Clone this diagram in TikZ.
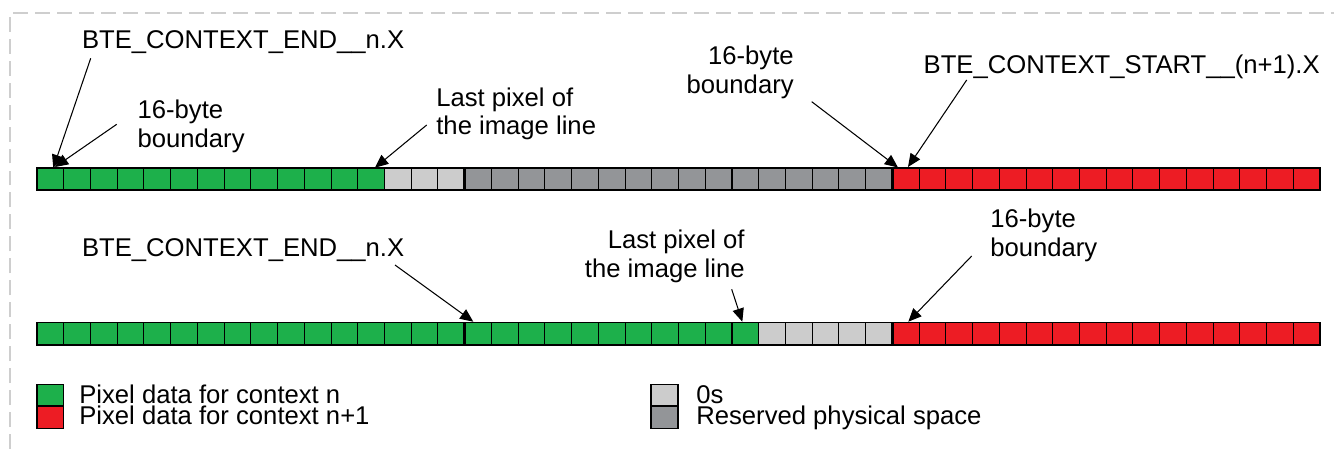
\documentclass[tikz,border=0pt]{standalone}
\usepackage{fontspec}
\setmainfont{Liberation Sans}
\usepackage{tikz}
\usetikzlibrary{arrows.meta}
\definecolor{ctxn}{RGB}{29,176,75}
\definecolor{ctxnext}{RGB}{237,28,36}
\definecolor{zeros}{RGB}{204,204,204}
\definecolor{resv}{RGB}{147,149,152}
\definecolor{framegray}{RGB}{206,206,206}

\begin{document}
\begin{tikzpicture}[x=0.02cm,y=-0.02cm,>={Triangle[length=7.5pt,width=6.5pt]},
  cell/.style={draw=black,line width=0.6pt},
  lbl/.style={inner sep=0pt,font=\fontsize{14.6pt}{16.4pt}\selectfont},
  ptr/.style={->,line width=0.6pt}]
\useasboundingbox (0,0) rectangle (1334,449);
\def\w{26.73}
% dashed frame
\draw[framegray,line width=1.1pt,dash pattern=on 8.5pt off 4pt](10,449)--(10,13)--(1334,13);

% upper line
\foreach \i in {0,...,12} \draw[cell,fill=ctxn]({37+\i*\w},168) rectangle ++(\w,22);
\foreach \i in {13,...,15} \draw[cell,fill=zeros]({37+\i*\w},168) rectangle ++(\w,22);
\foreach \i in {16,...,31} \draw[cell,fill=resv]({37+\i*\w},168) rectangle ++(\w,22);
\foreach \i in {32,...,47} \draw[cell,fill=ctxnext]({37+\i*\w},168) rectangle ++(\w,22);
\draw[line width=1pt](37,168) rectangle (1320,190);
\draw[line width=1.4pt]({37+16*\w},168)--++(0,22) ({37+32*\w},168)--++(0,22);

% lower line
\foreach \i in {0,...,26} \draw[cell,fill=ctxn]({37+\i*\w},322.5) rectangle ++(\w,22.5);
\foreach \i in {27,...,31} \draw[cell,fill=zeros]({37+\i*\w},322.5) rectangle ++(\w,22.5);
\foreach \i in {32,...,47} \draw[cell,fill=ctxnext]({37+\i*\w},322.5) rectangle ++(\w,22.5);
\draw[line width=1pt](37,322.5) rectangle (1320,345);
\draw[line width=1.4pt]({37+16*\w},322.5)--++(0,22.5) ({37+32*\w},322.5)--++(0,22.5);

% labels (two-line ones are anchored on their last line)
\node[lbl,anchor=base west](endtop) at (81.7,48.3){BTE\_CONTEXT\_END\_\_n.X};
\node[lbl,anchor=base west,align=left](bndtopl) at (137.3,147.7){16-byte\\boundary};
\node[lbl,anchor=base west,align=left](lasttop) at (436,135){Last pixel of\\the image line};
\node[lbl,anchor=base east,align=right](bndtopr) at (794,93.3){16-byte\\boundary};
\node[lbl,anchor=base west](starttop) at (923.3,73.3){BTE\_CONTEXT\_START\_\_(n+1).X};
\node[lbl,anchor=base west](endbot) at (81.7,256.7){BTE\_CONTEXT\_END\_\_n.X};
\node[lbl,anchor=base east,align=right](lastbot) at (745,277.7){Last pixel of\\the image line};
\node[lbl,anchor=base west,align=left](bndbot) at (990,256.7){16-byte\\boundary};

% pointers
\coordinate (a1) at (90.7,58.3);   \coordinate (b1) at (53.3,168);
\coordinate (a2) at (116.7,124.3); \coordinate (b2) at (55,167);
\coordinate (a3) at (426.7,125);   \coordinate (b3) at (375,167.7);
\coordinate (a4) at (811.7,101.7); \coordinate (b4) at (898,167.5);
\coordinate (a5) at (966.7,80);    \coordinate (b5) at (908,167);
\coordinate (a6) at (395,265);     \coordinate (b6) at (473.3,321.7);
\coordinate (a7) at (731.7,289.3); \coordinate (b7) at (742.3,321.7);
\coordinate (a8) at (971.7,256);   \coordinate (b8) at (908.3,321.7);
\foreach \k in {1,...,8} \draw[ptr](a\k)--(b\k);

% legend
\draw[cell,fill=ctxn](37,384.3) rectangle (63.3,406);
\draw[cell,fill=ctxnext](37,406) rectangle (63.3,428.3);
\draw[cell,fill=zeros](651,384.3) rectangle (678,406);
\draw[cell,fill=resv](651,406) rectangle (678,428.3);
\node[lbl,anchor=base west](legn) at (79,403.3){Pixel data for context n};
\node[lbl,anchor=base west](legnext) at (79,424.3){Pixel data for context n+1};
\node[lbl,anchor=base west](legzero) at (696,403.3){0s};
\node[lbl,anchor=base west](legresv) at (696,424.3){Reserved physical space};
\end{tikzpicture}
\end{document}
